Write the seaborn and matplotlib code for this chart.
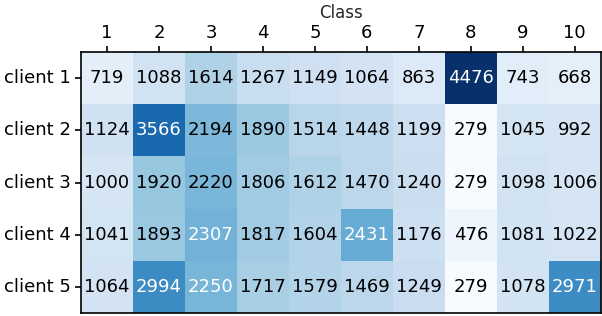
import numpy as np
import pandas as pd
import matplotlib
matplotlib.use("Agg")
import matplotlib.pyplot as plt
import seaborn as sns

classes = ["1", "2", "3", "4", "5", "6", "7", "8", "9", "10"]
clients = ["client 1", "client 2", "client 3", "client 4", "client 5"]

client_1 = [719, 1088, 1614, 1267, 1149, 1064, 863, 4476, 743, 668]
client_2 = [1124, 3566, 2194, 1890, 1514, 1448, 1199, 279, 1045, 992]
client_3 = [1000, 1920, 2220, 1806, 1612, 1470, 1240, 279, 1098, 1006]
client_4 = [1041, 1893, 2307, 1817, 1604, 2431, 1176, 476, 1081, 1022]
client_5 = [1064, 2994, 2250, 1717, 1579, 1469, 1249, 279, 1078, 2971]

df = pd.DataFrame([client_1, client_2, client_3, client_4, client_5],
                  index=clients, columns=classes)

fig = plt.figure(figsize=(6.02, 3.16), dpi=100)
ax = fig.add_axes([0.1346, 0.0095, 0.8634, 0.8255])
sns.heatmap(df, ax=ax, cmap="Blues", annot=True, fmt="d", cbar=False,
            annot_kws={"fontsize": 13})

# white text on the darker cells, black elsewhere
vals = df.values.flatten()
for txt, v in zip(ax.texts, vals):
    txt.set_color("white" if v >= 2240 else "black")

ax.xaxis.tick_top()
ax.xaxis.set_label_position("top")
ax.set_xlabel("Class", fontsize=12, color="#262626")
ax.tick_params(axis="both", labelsize=13, length=4, width=1.2, colors="black")
ax.tick_params(axis="y", rotation=0)
ax.tick_params(axis="x", rotation=0)
for s in ax.spines.values():
    s.set_visible(True)
    s.set_linewidth(1.2)

fig.savefig("out.png", dpi=100)
